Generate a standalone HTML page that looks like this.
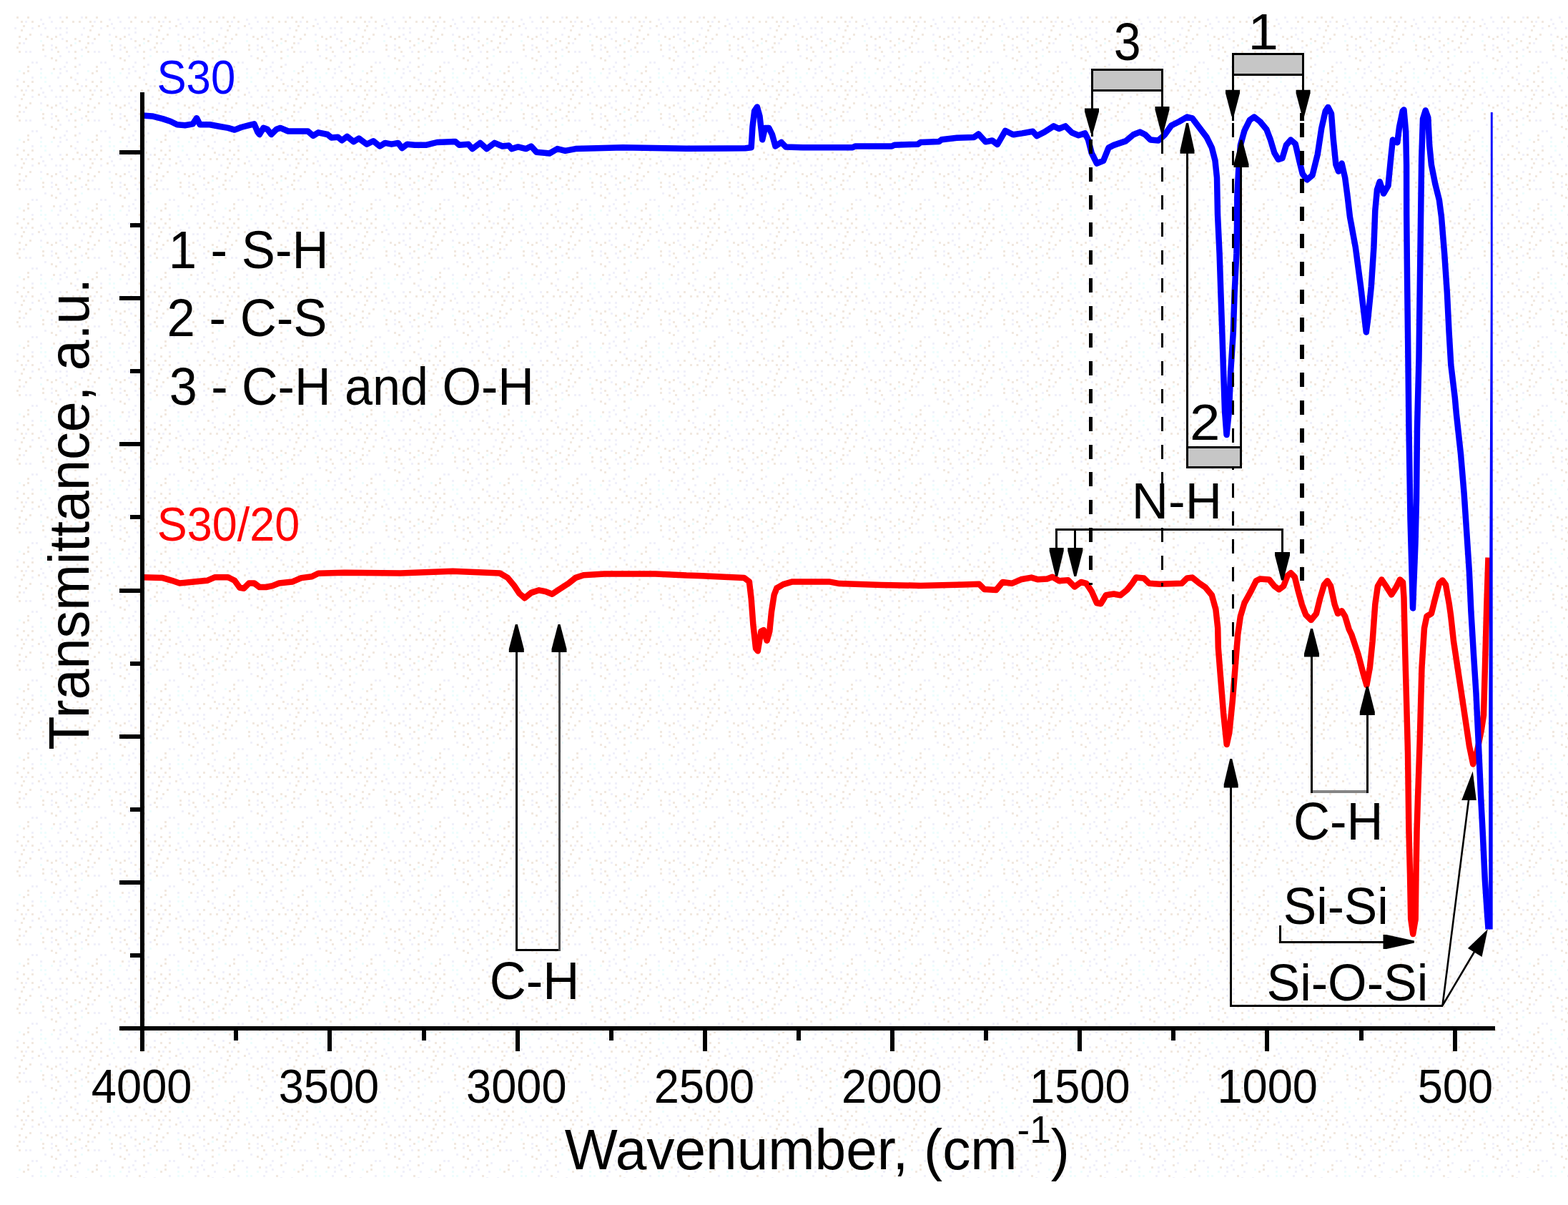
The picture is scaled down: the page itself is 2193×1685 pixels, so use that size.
<!DOCTYPE html>
<html lang="en"><head><meta charset="utf-8"><title>FTIR transmittance spectra S30 and S30/20</title>
<style>html,body{margin:0;padding:0;background:#fff;}body{width:2193px;height:1685px;overflow:hidden;}svg{display:block;}text{font-family:"Liberation Sans", sans-serif;white-space:pre;}</style>
</head><body>
<svg width="2193" height="1685" viewBox="0 0 2193 1685">
<defs><pattern id="bg" x="20" y="23" width="96" height="96" patternUnits="userSpaceOnUse"><rect x="84" y="87" width="3" height="3" fill="#f0f0fa"/><rect x="36" y="33" width="3" height="3" fill="#eefdfd"/><rect x="90" y="33" width="3" height="3" fill="#f1e8df"/><rect x="84" y="57" width="3" height="3" fill="#f1e8df"/><rect x="15" y="6" width="3" height="3" fill="#f0f0fa"/><rect x="84" y="30" width="3" height="3" fill="#f1e8df"/><rect x="6" y="36" width="3" height="3" fill="#f1e8df"/><rect x="3" y="87" width="3" height="3" fill="#f0f0fa"/><rect x="84" y="36" width="3" height="3" fill="#eefdfd"/><rect x="42" y="54" width="3" height="3" fill="#f0f0fa"/><rect x="0" y="15" width="3" height="3" fill="#f0f0fa"/><rect x="51" y="78" width="3" height="3" fill="#eefdfd"/><rect x="15" y="48" width="3" height="3" fill="#f0f0fa"/><rect x="18" y="75" width="3" height="3" fill="#f1e8df"/><rect x="54" y="72" width="3" height="3" fill="#f1e8df"/><rect x="3" y="0" width="3" height="3" fill="#f1e8df"/><rect x="39" y="9" width="3" height="3" fill="#f0f0fa"/><rect x="72" y="75" width="3" height="3" fill="#f0f0fa"/><rect x="12" y="36" width="3" height="3" fill="#f0f0fa"/><rect x="63" y="15" width="3" height="3" fill="#f0f0fa"/><rect x="63" y="0" width="3" height="3" fill="#f0f0fa"/><rect x="21" y="24" width="3" height="3" fill="#f1e8df"/><rect x="18" y="0" width="3" height="3" fill="#f1e8df"/><rect x="87" y="93" width="3" height="3" fill="#f1e8df"/><rect x="36" y="84" width="3" height="3" fill="#eefdfd"/><rect x="36" y="24" width="3" height="3" fill="#f0f0fa"/><rect x="72" y="21" width="3" height="3" fill="#f0f0fa"/><rect x="78" y="39" width="3" height="3" fill="#f1e8df"/><rect x="51" y="57" width="3" height="3" fill="#f1e8df"/><rect x="6" y="27" width="3" height="3" fill="#f1e8df"/><rect x="84" y="48" width="3" height="3" fill="#f1e8df"/><rect x="63" y="54" width="3" height="3" fill="#f0f0fa"/><rect x="12" y="12" width="3" height="3" fill="#f1e8df"/><rect x="39" y="45" width="3" height="3" fill="#f1e8df"/><rect x="69" y="69" width="3" height="3" fill="#f0f0fa"/><rect x="24" y="90" width="3" height="3" fill="#f1e8df"/><rect x="72" y="33" width="3" height="3" fill="#f1e8df"/><rect x="57" y="42" width="3" height="3" fill="#f1e8df"/><rect x="36" y="72" width="3" height="3" fill="#f0f0fa"/><rect x="9" y="18" width="3" height="3" fill="#f1e8df"/><rect x="6" y="48" width="3" height="3" fill="#f1e8df"/><rect x="75" y="48" width="3" height="3" fill="#f0f0fa"/><rect x="93" y="54" width="3" height="3" fill="#eefdfd"/><rect x="33" y="12" width="3" height="3" fill="#f1e8df"/><rect x="42" y="90" width="3" height="3" fill="#eefdfd"/><rect x="39" y="39" width="3" height="3" fill="#f1e8df"/><rect x="78" y="84" width="3" height="3" fill="#f1e8df"/><rect x="9" y="6" width="3" height="3" fill="#f1e8df"/><rect x="24" y="15" width="3" height="3" fill="#f0f0fa"/><rect x="24" y="84" width="3" height="3" fill="#f0f0fa"/><rect x="24" y="6" width="3" height="3" fill="#f1e8df"/><rect x="90" y="66" width="3" height="3" fill="#f0f0fa"/><rect x="12" y="90" width="3" height="3" fill="#f1e8df"/><rect x="57" y="60" width="3" height="3" fill="#f1e8df"/><rect x="84" y="69" width="3" height="3" fill="#f1e8df"/><rect x="24" y="63" width="3" height="3" fill="#f0f0fa"/><rect x="12" y="78" width="3" height="3" fill="#f1e8df"/><rect x="93" y="0" width="3" height="3" fill="#f0f0fa"/><rect x="72" y="0" width="3" height="3" fill="#f1e8df"/><rect x="21" y="48" width="3" height="3" fill="#f0f0fa"/><rect x="63" y="72" width="3" height="3" fill="#f0f0fa"/><rect x="57" y="15" width="3" height="3" fill="#f0f0fa"/><rect x="3" y="42" width="3" height="3" fill="#f1e8df"/><rect x="48" y="0" width="3" height="3" fill="#f0f0fa"/><rect x="57" y="27" width="3" height="3" fill="#f1e8df"/><rect x="30" y="63" width="3" height="3" fill="#f0f0fa"/><rect x="93" y="45" width="3" height="3" fill="#f0f0fa"/><rect x="72" y="42" width="3" height="3" fill="#f0f0fa"/><rect x="66" y="6" width="3" height="3" fill="#f1e8df"/><rect x="51" y="30" width="3" height="3" fill="#f1e8df"/><rect x="51" y="39" width="3" height="3" fill="#f0f0fa"/><rect x="60" y="84" width="3" height="3" fill="#f0f0fa"/><rect x="51" y="6" width="3" height="3" fill="#f0f0fa"/><rect x="36" y="3" width="3" height="3" fill="#f0f0fa"/><rect x="45" y="27" width="3" height="3" fill="#f1e8df"/><rect x="18" y="69" width="3" height="3" fill="#f1e8df"/><rect x="90" y="6" width="3" height="3" fill="#f1e8df"/><rect x="66" y="30" width="3" height="3" fill="#f0f0fa"/><rect x="42" y="15" width="3" height="3" fill="#f0f0fa"/><rect x="72" y="63" width="3" height="3" fill="#f0f0fa"/><rect x="72" y="15" width="3" height="3" fill="#f0f0fa"/><rect x="60" y="48" width="3" height="3" fill="#f1e8df"/><rect x="63" y="78" width="3" height="3" fill="#f0f0fa"/><rect x="81" y="6" width="3" height="3" fill="#f1e8df"/><rect x="63" y="24" width="3" height="3" fill="#f0f0fa"/><rect x="42" y="84" width="3" height="3" fill="#eefdfd"/><rect x="36" y="78" width="3" height="3" fill="#eefdfd"/><rect x="6" y="75" width="3" height="3" fill="#eefdfd"/><rect x="15" y="30" width="3" height="3" fill="#f1e8df"/><rect x="87" y="78" width="3" height="3" fill="#f0f0fa"/><rect x="51" y="45" width="3" height="3" fill="#f0f0fa"/><rect x="93" y="24" width="3" height="3" fill="#f0f0fa"/></pattern>
<clipPath id="plotclip"><rect x="190" y="100" width="1897.7" height="1340"/></clipPath></defs>
<rect x="0" y="0" width="2193" height="1685" fill="#ffffff"/>
<rect x="20" y="23" width="2173" height="1624" fill="url(#bg)" shape-rendering="crispEdges"/>
<g fill="none" stroke-linejoin="round" stroke-linecap="butt" stroke-width="8.5" clip-path="url(#plotclip)">
<polyline stroke="#ff0000" points="199.2,807.2 227.6,808.1 240.4,811.8 251.3,815.5 271.5,813.6 289.7,811.8 300.7,807.2 319,807.2 328.1,811.8 335.5,821.9 341,822.8 348.3,815.5 355.6,815.5 362.9,821 372,821 381.2,819.1 390.3,815.5 408.6,813.6 421.4,808.1 436.1,806.3 445.2,801.7 481.8,800.8 560,801.5 633.2,798.8 699,801.5 710,807.9 719.1,818.9 726.4,829.9 733.8,836.3 742.9,828.9 753.9,825.3 763,827.1 772.2,830.8 783.1,823.5 795.9,815.2 805.1,807.9 816.1,804.3 845.3,802.4 916.6,802.4 960,804.6 982.1,805.2 1018.6,807 1040.6,807.9 1047.9,813.4 1050.7,837.2 1053.4,873.8 1057.1,906.7 1059.8,910.3 1064.4,882.9 1068,881.1 1072.6,895.7 1076.3,882.9 1079,855.5 1082.7,831.7 1086.3,822.5 1095.5,817.1 1108.3,813.4 1159.5,813.4 1174.1,816.1 1232.6,818 1287.5,818.9 1347.4,817.6 1369.4,816.7 1376.7,824 1393.2,825 1402.3,814 1415.1,815.8 1427.9,810.3 1442.5,807.6 1451.7,810.3 1464.5,809.4 1471.8,806.7 1481,812.2 1493.8,811.2 1502.9,820.4 1512,814 1519.4,815.8 1526.7,826.8 1534,843.3 1539.5,844.2 1546.8,832.3 1557.8,830.5 1566.9,832.3 1576.1,825 1583.4,815.8 1588.9,807.6 1599.8,808.5 1607.2,815.8 1621.8,816.7 1652.9,815.8 1660.2,808.5 1667.5,807.6 1676.6,814.9 1685.8,821.3 1694.9,832.3 1700.4,852.4 1703.2,878 1703.8,905.7 1707.4,951.4 1711.1,997.2 1715.7,1041 1719.3,1024.6 1723.9,978.9 1727.6,933.2 1731.2,887.4 1734.9,861.7 1740.4,843.4 1749.5,826.9 1756.8,812.3 1762.3,809.5 1775.1,810.5 1782.4,819.6 1788.8,824.2 1795.2,819.6 1800.7,805 1805.3,801.3 1810.8,806.8 1815.3,825.1 1820.8,845.2 1826.3,859.8 1833.6,867.1 1841,858 1846.4,836.1 1851.9,817.8 1856.5,812.3 1861.1,819.6 1866.6,845.2 1871.1,858 1876.6,854.3 1881.2,861.7 1886.7,880 1890.3,887.4 1899.5,914.9 1906.8,942.3 1911.4,958 1915.9,933.2 1919.6,896.6 1921.5,870 1923.3,845.2 1926.9,819.6 1932.4,810.5 1939.7,821.4 1946.1,831.5 1952.5,821.4 1958,810.5 1962,814.1 1963.5,836 1964,860 1965.3,914.9 1967.3,988 1969,1052 1970.4,1160 1972,1222 1973.2,1285 1976.2,1306 1979.7,1285 1980.5,1222 1981.6,1160 1983,1116 1985.6,1040 1988.5,933.2 1992,878.3 1995.5,861.7 2001.9,858 2007.4,836.1 2012.9,815.9 2017.5,811.4 2022,817.8 2026.6,843.4 2029,860 2033,896.6 2038.5,933.2 2044,969.7 2049.5,1006.3 2054.9,1042.9 2060.2,1068.5 2066,1050 2072,1020 2075,1000 2077,930 2079.2,850 2081.5,779.6"/>
<polyline stroke="#0000ff" points="199.2,161.5 212.9,162.4 227.6,166.1 238.5,169.7 247.7,174.3 258.6,175.2 269.6,173.4 275.1,165.2 279.7,174.3 293.4,174.3 308,177 319,178.9 328.1,181.6 337.3,178 348.3,175.2 355.6,173.4 360.2,184.4 362.9,188 368.4,178.9 373.9,180.7 379.4,188 386.7,180.7 392.2,178.9 403.1,183.5 417.8,183.5 430.6,183.5 437.9,189.9 445.2,185.3 458,188 463.5,192.6 472.6,191.7 478.1,196.3 485.4,190.8 494.6,198.1 501.9,193.5 512.9,201.7 522,197.2 531.2,204.5 538.5,199.9 547.6,201.7 556.8,199.9 562.3,207.2 569.6,201.7 580,202.8 596.6,202.7 611.2,199 636.8,198.1 642.3,202.7 655.1,201.7 660.6,208.1 671.6,199.9 680.7,208.1 691.7,199.9 702.7,204.5 711.8,203.6 715.5,208.1 724.6,205.4 735.6,208.1 742.9,204.5 750.2,212.7 768.5,214.5 779.5,208.1 790.5,210.9 805.1,208.1 834.3,207.2 870.9,206.3 960,207.8 1042.4,207.2 1050.7,206.3 1052.5,177 1055.2,155.1 1058.9,149.6 1062.5,162.4 1066.2,195.3 1069.9,178.9 1075.3,178.9 1079.9,188 1084.5,204.5 1092.7,199 1099.1,205.4 1122.9,206.3 1192.4,206.3 1196,204.5 1247.3,204.5 1250.9,202.7 1283.8,201.7 1287.5,199 1313.1,198.1 1316.8,195.3 1338.3,192.8 1362.1,191.9 1368.5,187.4 1378.5,198.3 1387.7,196.5 1395,202 1406,182.8 1416.9,188.3 1429.7,186.4 1444.4,183.7 1449.9,190.1 1460.8,184.6 1473.6,176.4 1481,180 1490.1,176.4 1499.2,185.5 1508.4,189.2 1517.5,186.4 1522.1,195.6 1526.7,213.9 1534,228.5 1543.1,224.8 1550.5,206.6 1557.8,202.9 1574.2,197.4 1585.2,188.3 1594.3,184.6 1601.7,188.3 1609,195.6 1620,196.5 1629.1,188.3 1638.2,175.5 1649.2,170 1660.2,163.6 1667.5,165.4 1676.6,177.3 1687.6,191.9 1694.9,206.6 1699.5,224.8 1702,248.6 1703,300 1705.6,354.9 1707.4,409.7 1709.3,464.6 1711.1,519.5 1713,574.4 1715.5,608 1719,574.4 1721.2,519.5 1724.8,464.6 1726.6,409.7 1729.4,354.9 1730.3,300 1730.3,276 1732.1,239.5 1734.9,202.9 1740.4,182.8 1747.7,168.1 1754.1,163.6 1762.3,170 1771.4,181 1776.9,195.6 1782.4,213.9 1787.9,223 1793.4,221.2 1798.9,202.9 1805.3,195.6 1811.7,201.1 1817.2,224.8 1821.7,243.1 1828.1,251.4 1835.5,245 1842.8,215.7 1848.3,179.1 1853.8,155.3 1857.4,149.9 1862,159 1864.7,193.8 1868.4,230.3 1872,239.5 1876.6,228.5 1881.2,248.6 1884.8,276.1 1888,303.5 1895.8,345.7 1903.1,400.6 1908.6,446.3 1910.8,464.5 1913.2,446.3 1917.8,400.6 1921.4,345.7 1923.3,294.3 1926,265.1 1929.7,254.1 1935.1,270.6 1941.5,259.6 1945.2,221.2 1947.9,195.6 1954.3,199.2 1957.1,177.3 1961.7,155.3 1963.5,153.5 1966.2,184.6 1967.1,230.3 1967.2,300 1968.1,391.4 1969,464.6 1970.5,600 1972.5,726 1976,850.5 1979.5,760 1981,700 1982,600 1984.5,501 1986.4,355 1988.2,221.2 1990,166.3 1993.7,154.4 1997.3,164.5 1999.2,202.9 2001.9,230.3 2007.4,257.8 2012.9,279.7 2016,303.5 2020.2,354.9 2023.9,409.7 2026.6,464.6 2029.3,510.3 2034.8,556 2037,580 2043,634.9 2047.6,689.7 2051.3,744.6 2054.9,799.5 2057.4,855 2061,914.9 2064.5,969.7 2068,1042.9 2071.2,1116 2073.5,1160 2076.8,1230 2079.8,1275 2081.6,1299.4"/>
<polyline stroke="#0000ff" points="2086.4,1299.4 2086.4,1000 2087.7,740 2089.1,400 2089.1,157"/>
</g>
<g stroke="#000" stroke-width="6" fill="none" shape-rendering="crispEdges">
<line x1="199.2" y1="128.5" x2="199.2" y2="1441"/>
<line x1="167" y1="1438" x2="2090.5" y2="1438"/>
<line x1="167" y1="213.0" x2="199.2" y2="213.0"/>
<line x1="182" y1="315.1" x2="199.2" y2="315.1"/>
<line x1="167" y1="417.2" x2="199.2" y2="417.2"/>
<line x1="182" y1="519.2" x2="199.2" y2="519.2"/>
<line x1="167" y1="621.3" x2="199.2" y2="621.3"/>
<line x1="182" y1="723.4" x2="199.2" y2="723.4"/>
<line x1="167" y1="825.5" x2="199.2" y2="825.5"/>
<line x1="182" y1="927.6" x2="199.2" y2="927.6"/>
<line x1="167" y1="1029.7" x2="199.2" y2="1029.7"/>
<line x1="182" y1="1131.7" x2="199.2" y2="1131.7"/>
<line x1="167" y1="1233.8" x2="199.2" y2="1233.8"/>
<line x1="182" y1="1335.9" x2="199.2" y2="1335.9"/>
<line x1="199.2" y1="1438" x2="199.2" y2="1469.5"/>
<line x1="330.3" y1="1438" x2="330.3" y2="1455"/>
<line x1="461.4" y1="1438" x2="461.4" y2="1469.5"/>
<line x1="592.5" y1="1438" x2="592.5" y2="1455"/>
<line x1="723.6" y1="1438" x2="723.6" y2="1469.5"/>
<line x1="854.7" y1="1438" x2="854.7" y2="1455"/>
<line x1="985.8" y1="1438" x2="985.8" y2="1469.5"/>
<line x1="1116.9" y1="1438" x2="1116.9" y2="1455"/>
<line x1="1248.0" y1="1438" x2="1248.0" y2="1469.5"/>
<line x1="1379.1" y1="1438" x2="1379.1" y2="1455"/>
<line x1="1510.2" y1="1438" x2="1510.2" y2="1469.5"/>
<line x1="1641.3" y1="1438" x2="1641.3" y2="1455"/>
<line x1="1772.4" y1="1438" x2="1772.4" y2="1469.5"/>
<line x1="1903.5" y1="1438" x2="1903.5" y2="1455"/>
<line x1="2034.6" y1="1438" x2="2034.6" y2="1469.5"/>
</g>
<text transform="matrix(0.6177 0 0 0.6606 219.42 130.94)" font-size="100" fill="#0000ff">S30</text>
<text transform="matrix(0.6292 0 0 0.6626 219.77 756.14)" font-size="100" fill="#ff0000">S30/20</text>
<text transform="matrix(0.7072 0 0 0.7380 235.63 375.26)" font-size="100" fill="#000">1 - S-H</text>
<text transform="matrix(0.7075 0 0 0.7437 233.46 470.06)" font-size="100" fill="#000">2 - C-S</text>
<text transform="matrix(0.7011 0 0 0.7388 236.70 565.56)" font-size="100" fill="#000">3 - C-H and O-H</text>
<text transform="matrix(0.6809 0 0 0.7338 1557.78 84.17)" font-size="100" fill="#000">3</text>
<text transform="matrix(0.7626 0 0 0.6986 1663.89 614.60)" font-size="100" fill="#000">2</text>
<text transform="matrix(0.7626 0 0 0.7029 1745.47 69.40)" font-size="100" fill="#000">1</text>
<text transform="matrix(0.7102 0 0 0.6971 1582.82 724.90)" font-size="100" fill="#000">N-H</text>
<text transform="matrix(0.7070 0 0 0.7423 684.77 1397.16)" font-size="100" fill="#000">C-H</text>
<text transform="matrix(0.7058 0 0 0.7380 1808.97 1173.66)" font-size="100" fill="#000">C-H</text>
<text transform="matrix(0.6965 0 0 0.7197 1794.77 1291.88)" font-size="100" fill="#000">Si-Si</text>
<text transform="matrix(0.7010 0 0 0.7265 1771.45 1399.47)" font-size="100" fill="#000">Si-O-Si</text>
<text transform="matrix(0.6319 0 0 0.6592 127.87 1541.54)" font-size="100" fill="#000">4000</text>
<text transform="matrix(0.6319 0 0 0.6592 389.70 1541.54)" font-size="100" fill="#000">3500</text>
<text transform="matrix(0.6319 0 0 0.6592 652.10 1541.54)" font-size="100" fill="#000">3000</text>
<text transform="matrix(0.6319 0 0 0.6592 914.68 1541.54)" font-size="100" fill="#000">2500</text>
<text transform="matrix(0.6319 0 0 0.6592 1177.08 1541.54)" font-size="100" fill="#000">2000</text>
<text transform="matrix(0.6319 0 0 0.6592 1440.09 1541.54)" font-size="100" fill="#000">1500</text>
<text transform="matrix(0.6319 0 0 0.6592 1702.39 1541.54)" font-size="100" fill="#000">1000</text>
<text transform="matrix(0.6319 0 0 0.6592 1982.63 1541.54)" font-size="100" fill="#000">500</text>
<text transform="matrix(0.7838 0 0 0.8029 789.71 1634.70)" font-size="100" fill="#000">Wavenumber, (cm<tspan font-size="67.5" dy="-45.8">-1</tspan><tspan dy="45.8">)</tspan></text>
<text transform="matrix(0 -0.7743 0.7986 0 124.00 1048.74)" font-size="100" fill="#000">Transmittance, a.u.</text>
<g stroke="#000" stroke-width="3" fill="none" shape-rendering="crispEdges">
<line x1="1525.7" y1="195.1" x2="1525.7" y2="818" stroke-width="5.5" stroke-dasharray="20 18.77"/>
<line x1="1625.4" y1="195.1" x2="1625.4" y2="819.5" stroke-dasharray="20 18.77"/>
<line x1="1724.2" y1="172.2" x2="1724.2" y2="968" stroke-dasharray="20 18.77"/>
<line x1="1821.1" y1="172.2" x2="1821.1" y2="811.5" stroke-width="5.5" stroke-dasharray="20 18.77"/>
<line x1="1527.1" y1="180" x2="1527.1" y2="191.4"/>
<line x1="1625.4" y1="180" x2="1625.4" y2="195.5"/>
<line x1="1724.2" y1="158" x2="1724.2" y2="168.5"/>
<line x1="1821.1" y1="158" x2="1821.1" y2="168.5" stroke-width="5.5"/>
<rect x="1527.4" y="97.6" width="98" height="29" fill="#c6c6c6"/>
<line x1="1527.4" y1="126" x2="1527.4" y2="160"/>
<line x1="1625.4" y1="126" x2="1625.4" y2="160"/>
<rect x="1724.5" y="75.5" width="98" height="28.5" fill="#c6c6c6"/>
<line x1="1724.5" y1="104" x2="1724.5" y2="135"/>
<line x1="1822.5" y1="104" x2="1822.5" y2="135"/>
<rect x="1660.8" y="625.1" width="74.7" height="28.4" fill="#c6c6c6"/>
<line x1="1660.8" y1="210" x2="1660.8" y2="625"/>
<line x1="1735.5" y1="230" x2="1735.5" y2="625"/>
<polyline points="1477.5,770 1477.5,740.8 1793.5,740.8 1793.5,775"/>
<line x1="1503.8" y1="740.8" x2="1503.8" y2="770"/>
<polyline points="722.3,910 722.3,1328.7 782,1328.7"/>
<line x1="782" y1="910" x2="782" y2="1330" stroke="#4a4a4a"/>
<line x1="1834.5" y1="915" x2="1834.5" y2="1109"/>
<line x1="1912.5" y1="995" x2="1912.5" y2="1109"/>
<line x1="1836" y1="1107" x2="1911" y2="1107" stroke="#858585" stroke-width="4.5"/>
<polyline points="1790.5,1294 1790.5,1317 1940,1317"/>
<polyline points="1721.5,1098 1721.5,1406.5 2017.5,1406.5"/>
</g>
<g stroke="#000" stroke-width="2.6" fill="none">
<line x1="2017.5" y1="1406" x2="2054.5" y2="1115"/>
<line x1="2017.5" y1="1406" x2="2062" y2="1331"/>
</g>
<polygon points="1517.0,151.6 1537.0,151.6 1537.0,156.1 1528.5,186.3 1525.5,186.3 1517.0,156.1" fill="#000"/>
<polygon points="1615.5,149.0 1635.5,149.0 1635.5,153.5 1627.0,186.3 1624.0,186.3 1615.5,153.5" fill="#000"/>
<polygon points="1714.0,125.7 1734.0,125.7 1734.0,130.2 1725.5,162.7 1722.5,162.7 1714.0,130.2" fill="#000"/>
<polygon points="1812.6,125.7 1832.6,125.7 1832.6,130.2 1824.1,162.7 1821.1,162.7 1812.6,130.2" fill="#000"/>
<polygon points="1650.5,214.8 1670.5,214.8 1670.5,210.3 1662.0,172.0 1659.0,172.0 1650.5,210.3" fill="#000"/>
<polygon points="1725.5,234.0 1746.5,234.0 1746.5,229.5 1737.5,195.6 1734.5,195.6 1725.5,229.5" fill="#000"/>
<polygon points="1467.7,766.0 1487.7,766.0 1487.7,770.5 1479.2,806.0 1476.2,806.0 1467.7,770.5" fill="#000"/>
<polygon points="1493.3,766.0 1514.3,766.0 1514.3,770.5 1505.3,806.0 1502.3,806.0 1493.3,770.5" fill="#000"/>
<polygon points="1783.0,772.0 1804.0,772.0 1804.0,776.5 1795.0,811.5 1792.0,811.5 1783.0,776.5" fill="#000"/>
<polygon points="711.8,912.0 732.8,912.0 732.8,907.5 723.8,873.0 720.8,873.0 711.8,907.5" fill="#000"/>
<polygon points="771.5,912.0 792.5,912.0 792.5,907.5 783.5,873.0 780.5,873.0 771.5,907.5" fill="#000"/>
<polygon points="1824.0,918.5 1845.0,918.5 1845.0,914.0 1836.0,879.0 1833.0,879.0 1824.0,914.0" fill="#000"/>
<polygon points="1901.8,1000.0 1922.8,1000.0 1922.8,995.5 1913.8,960.0 1910.8,960.0 1901.8,995.5" fill="#000"/>
<polygon points="1711.7,1101.5 1731.7,1101.5 1731.7,1097.0 1723.2,1061.0 1720.2,1061.0 1711.7,1097.0" fill="#000"/>
<polygon points="1978,1315.5 1978,1318.5 1939,1327 1934.5,1327 1934.5,1307 1939,1307" fill="#000"/>
<polygon points="2059.8,1078.6 2044.2,1119 2064.8,1119" fill="#000"/>
<polygon points="2080.8,1299.2 2052.9,1326 2072.6,1338" fill="#000"/>
</svg></body></html>
